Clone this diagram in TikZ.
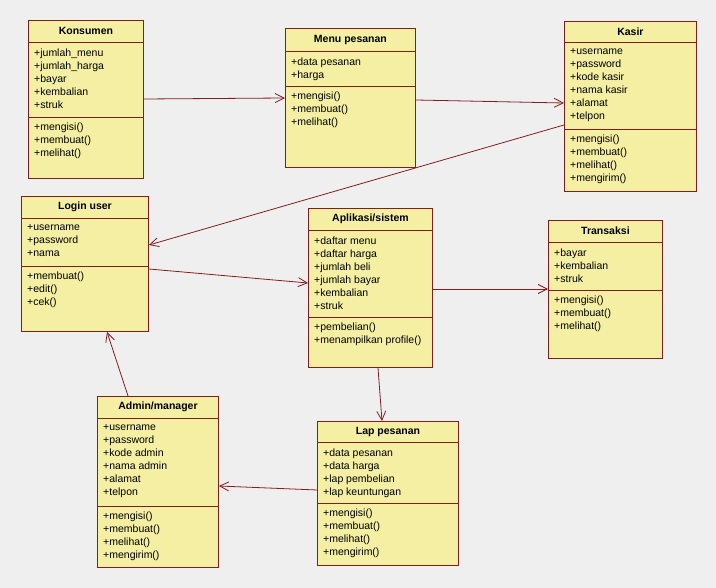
\documentclass[tikz,border=0pt]{standalone}
\usepackage{fontspec}
\setmainfont{Liberation Sans}
\usetikzlibrary{arrows.meta,calc}
\definecolor{bgc}{HTML}{EFEFEF}
\definecolor{boxfill}{HTML}{F5EFA3}
\definecolor{linec}{HTML}{861C1C}
\tikzset{
  clsbox/.style={draw=linec, fill=boxfill, line width=0.9pt, anchor=north west, inner sep=0pt},
  clsline/.style={draw=linec, line width=0.9pt},
  clstitle/.style={font=\fontsize{10.5}{13}\selectfont\bfseries, inner sep=0pt},
  clstext/.style={font=\fontsize{10.5}{13}\selectfont, anchor=north west, align=left, inner sep=0pt},
  assoc/.style={draw=linec, line width=0.8pt, -{Straight Barb[length=9pt,width=9pt,line width=0.8pt]}},
}
% #1 name, #2 x, #3 y, #4 w, #5 h, #6 title sep, #7 attr sep
\newcommand{\umlcls}[7]{%
  \node[clsbox, minimum width=#4pt, minimum height=#5pt] (#1) at (#2,#3) {};
  \draw[clsline] ([yshift=-#6pt]#1.north west) -- ([yshift=-#6pt]#1.north east);
  \draw[clsline] ([yshift=-#7pt]#1.north west) -- ([yshift=-#7pt]#1.north east);
  \coordinate (#1-t) at ([yshift=-0.5*#6pt]#1.north);
  \coordinate (#1-a) at ([yshift=-#6pt-6.5pt,xshift=6pt]#1.north west);
  \coordinate (#1-m) at ([yshift=-#7pt-6pt,xshift=6pt]#1.north west);
}
\begin{document}
\begin{tikzpicture}[x=1pt,y=-1pt]
\fill[bgc] (0,0) rectangle (716,588);
\useasboundingbox (0,0) rectangle (716,588);

\umlcls{kons}{28}{20}{115}{158}{22}{97}
\node[clstitle] (kons-title) at (kons-t) {Konsumen};
\node[clstext] (kons-attr) at (kons-a) {+jumlah\_menu\\+jumlah\_harga\\+bayar\\+kembalian\\+struk};
\node[clstext] (kons-meth) at (kons-m) {+mengisi()\\+membuat()\\+melihat()};

\umlcls{menu}{285}{28}{130}{139}{23}{58}
\node[clstitle] (menu-title) at (menu-t) {Menu pesanan};
\node[clstext] (menu-attr) at (menu-a) {+data pesanan\\+harga};
\node[clstext] (menu-meth) at (menu-m) {+mengisi()\\+membuat()\\+melihat()};

\umlcls{kasir}{564}{21}{132}{170}{21}{108}
\node[clstitle] (kasir-title) at (kasir-t) {Kasir};
\node[clstext] (kasir-attr) at (kasir-a) {+username\\+password\\+kode kasir\\+nama kasir\\+alamat\\+telpon};
\node[clstext] (kasir-meth) at (kasir-m) {+mengisi()\\+membuat()\\+melihat()\\+mengirim()};

\umlcls{login}{21}{196}{127}{135}{22}{70}
\node[clstitle] (login-title) at (login-t) {Login user};
\node[clstext] (login-attr) at (login-a) {+username\\+password\\+nama};
\node[clstext] (login-meth) at (login-m) {+membuat()\\+edit()\\+cek()};

\umlcls{apl}{308}{208}{124}{159}{22}{109}
\node[clstitle] (apl-title) at (apl-t) {Aplikasi/sistem};
\node[clstext] (apl-attr) at (apl-a) {+daftar menu\\+daftar harga\\+jumlah beli\\+jumlah bayar\\+kembalian\\+struk};
\node[clstext] (apl-meth) at (apl-m) {+pembelian()\\+menampilkan profile()};

\umlcls{trans}{548}{220}{114}{138}{22}{70}
\node[clstitle] (trans-title) at (trans-t) {Transaksi};
\node[clstext] (trans-attr) at (trans-a) {+bayar\\+kembalian\\+struk};
\node[clstext] (trans-meth) at (trans-m) {+mengisi()\\+membuat()\\+melihat()};

\umlcls{admin}{97}{396}{121}{171}{22}{110}
\node[clstitle] (admin-title) at (admin-t) {Admin/manager};
\node[clstext] (admin-attr) at (admin-a) {+username\\+password\\+kode admin\\+nama admin\\+alamat\\+telpon};
\node[clstext] (admin-meth) at (admin-m) {+mengisi()\\+membuat()\\+melihat()\\+mengirim()};

\umlcls{lap}{317}{421}{141}{144}{21}{82}
\node[clstitle] (lap-title) at (lap-t) {Lap pesanan};
\node[clstext] (lap-attr) at (lap-a) {+data pesanan\\+data harga\\+lap pembelian\\+lap keuntungan};
\node[clstext] (lap-meth) at (lap-m) {+mengisi()\\+membuat()\\+melihat()\\+mengirim()};

% connectors
\draw[assoc] ($(kons.north east)+(0,79)$) -- ($(menu.north west)+(0,70)$);
\draw[assoc] ($(menu.north east)+(0,72)$) -- ($(kasir.north west)+(0,82)$);
\draw[assoc] ($(kasir.north west)+(0,104)$) -- ($(login.north east)+(0,49)$);
\draw[assoc] ($(login.north east)+(0,73)$) -- ($(apl.north west)+(0,75)$);
\draw[assoc] ($(apl.north east)+(0,81)$) -- ($(trans.north west)+(0,69)$);
\draw[assoc] ($(apl.south west)+(70,0)$) -- ($(lap.north west)+(65,0)$);
\draw[assoc] ($(lap.north west)+(0,69)$) -- ($(admin.north east)+(0,90)$);
\draw[assoc] ($(admin.north west)+(31,0)$) -- ($(login.south west)+(86,0)$);
\end{tikzpicture}
\end{document}
